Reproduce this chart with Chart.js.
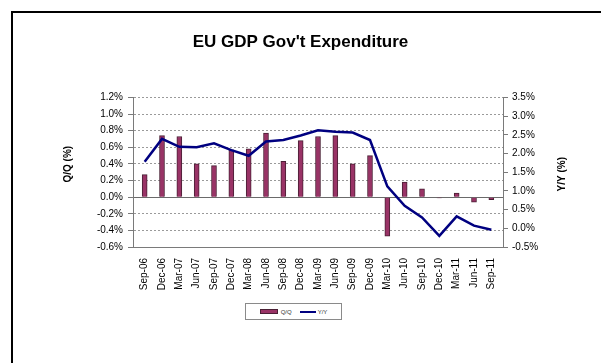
<!DOCTYPE html>
<html>
<head>
<meta charset="utf-8">
<title>EU GDP Gov't Expenditure</title>
<script src="https://cdn.jsdelivr.net/npm/chart.js@4/dist/chart.umd.min.js"></script>
<style>
    html, body { margin: 0; padding: 0; background: #fff; }
    body { width: 601px; height: 363px; position: relative; overflow: hidden; font-family: "Liberation Sans", Arial, sans-serif; }
    #frame { position: absolute; left: 11px; top: 11px; width: 700px; height: 500px; border: 2px solid #000; }
    #chart-wrap { position: absolute; left: 0; top: 0; width: 601px; height: 363px; }
    #legend { position: absolute; left: 245px; top: 303px; width: 95px; height: 15px; border: 1px solid #8a8a8a; background: #fff;
              display: flex; align-items: center; justify-content: center; font-size: 6px; color: #333; }
    .item { display: flex; align-items: center; margin: 0 4px; }
    .swatch-bar { display: inline-block; width: 16px; height: 3px; background: #993366; border: 1px solid #4a2035; margin-right: 3px; }
    .swatch-line { display: inline-block; width: 16px; height: 2px; background: #000080; margin-right: 2px; }
</style>
</head>
<body>
<div id="frame"></div>
<div id="chart-wrap"><canvas id="gdpChart" width="601" height="363"></canvas></div>
<div id="legend">
    <span class="item"><span class="swatch-bar"></span>Q/Q</span>
    <span class="item"><span class="swatch-line"></span>Y/Y</span>
</div>
<script>
// Quarterly data, Sep-06 to Sep-11
const quarters = ['Sep-06', 'Dec-06', 'Mar-07', 'Jun-07', 'Sep-07', 'Dec-07', 'Mar-08', 'Jun-08',
    'Sep-08', 'Dec-08', 'Mar-09', 'Jun-09', 'Sep-09', 'Dec-09', 'Mar-10', 'Jun-10',
    'Sep-10', 'Dec-10', 'Mar-11', 'Jun-11', 'Sep-11'];

// Q/Q change (%), left axis
const qoqValues = [0.27, 0.74, 0.73, 0.40, 0.38, 0.57, 0.58, 0.77, 0.43, 0.68, 0.73, 0.74,
    0.40, 0.50, -0.47, 0.18, 0.10, -0.01, 0.05, -0.06, -0.03];

// Y/Y change (%), right axis
const yoyValues = [1.78, 2.39, 2.18, 2.17, 2.27, 2.09, 1.94, 2.32, 2.36, 2.48, 2.62, 2.58,
    2.56, 2.36, 1.12, 0.60, 0.29, -0.20, 0.32, 0.07, -0.04];

// Axis ranges
const qoqTicks = { min: -0.6, max: 1.2, step: 0.2 };
const yoyTicks = { min: -0.5, max: 3.5, step: 0.5 };

const FONT = '"Liberation Sans", Arial, sans-serif';
const AXIS_GREY = '#7a7a7a';

function pct(v) {
    if (Math.abs(v) < 1e-9) v = 0;
    return v.toFixed(1) + '%';
}

// Rotated axis titles (both read bottom to top)
const axisTitles = {
    id: 'axisTitles',
    afterDraw(chart) {
        const { ctx, chartArea } = chart;
        const midY = (chartArea.top + chartArea.bottom) / 2;
        ctx.save();
        ctx.font = 'bold 10px ' + FONT;
        ctx.fillStyle = '#000';
        ctx.textAlign = 'center';
        ctx.textBaseline = 'middle';
        [['Q/Q (%)', chartArea.left - 65, midY - 8], ['Y/Y (%)', chartArea.right + 59, midY + 2]].forEach(([text, x, y]) => {
            ctx.save();
            ctx.translate(x, y);
            ctx.rotate(-Math.PI / 2);
            ctx.fillText(text, 0, 0);
            ctx.restore();
        });
        ctx.restore();
    }
};

const ctx = document.getElementById('gdpChart').getContext('2d');
new Chart(ctx, {
    type: 'bar',
    data: {
        datasets: [
            {
                type: 'line',
                label: 'Y/Y',
                data: yoyValues.map((v, i) => ({ x: i, y: v })),
                yAxisID: 'y1',
                borderColor: '#000080',
                borderWidth: 2.5,
                pointRadius: 0,
                tension: 0,
                order: 0
            },
            {
                label: 'Q/Q',
                data: qoqValues.map((v, i) => ({ x: i, y: v })),
                yAxisID: 'y',
                backgroundColor: '#993366',
                borderColor: '#4a2035',
                borderWidth: 1,
                barThickness: 5,
                order: 1
            }
        ]
    },
    options: {
        responsive: false,
        animation: false,
        layout: { padding: 0 },
        plugins: {
            legend: { display: false },
            tooltip: { enabled: false },
            title: {
                display: true,
                text: "EU GDP Gov't Expenditure",
                color: '#000',
                font: { family: FONT, size: 17, weight: 'bold' },
                padding: { top: 32, bottom: 45 }
            }
        },
        scales: {
            x: {
                type: 'linear',
                min: -0.165,
                max: quarters.length - 1 + 0.165,
                afterBuildTicks: (scale) => { scale.ticks = quarters.map((q, i) => ({ value: i })); },
                afterFit: (scale) => { scale.height = 116; },
                ticks: {
                    autoSkip: false,
                    minRotation: 90,
                    maxRotation: 90,
                    padding: 3,
                    color: '#000',
                    font: { family: FONT, size: 10 },
                    callback: (v) => quarters[v]
                },
                grid: { display: false },
                border: { display: true, color: AXIS_GREY, width: 1 }
            },
            y: {
                position: 'left',
                min: qoqTicks.min,
                max: qoqTicks.max,
                afterFit: (scale) => { scale.width = 133; },
                ticks: {
                    stepSize: qoqTicks.step,
                    padding: 5,
                    color: '#000',
                    font: { family: FONT, size: 10 },
                    callback: (v) => pct(v)
                },
                grid: {
                    color: (c) => (c.tick && Math.abs(c.tick.value) < 1e-9) ? '#6a6a6a' : '#9a9a9a',
                    tickColor: AXIS_GREY,
                    tickLength: 5,
                    lineWidth: 1
                },
                border: {
                    display: true,
                    color: AXIS_GREY,
                    width: 1,
                    dash: (c) => (c.tick && Math.abs(c.tick.value) < 1e-9) ? [] : [2, 2]
                }
            },
            y1: {
                position: 'right',
                min: yoyTicks.min,
                max: yoyTicks.max,
                afterFit: (scale) => { scale.width = 98; },
                ticks: {
                    stepSize: yoyTicks.step,
                    padding: 4,
                    color: '#000',
                    font: { family: FONT, size: 10 },
                    callback: (v) => pct(v)
                },
                grid: {
                    drawOnChartArea: false,
                    tickColor: AXIS_GREY,
                    tickLength: 5
                },
                border: { display: true, color: AXIS_GREY, width: 1 }
            }
        }
    },
    plugins: [axisTitles]
});
</script>
</body>
</html>
